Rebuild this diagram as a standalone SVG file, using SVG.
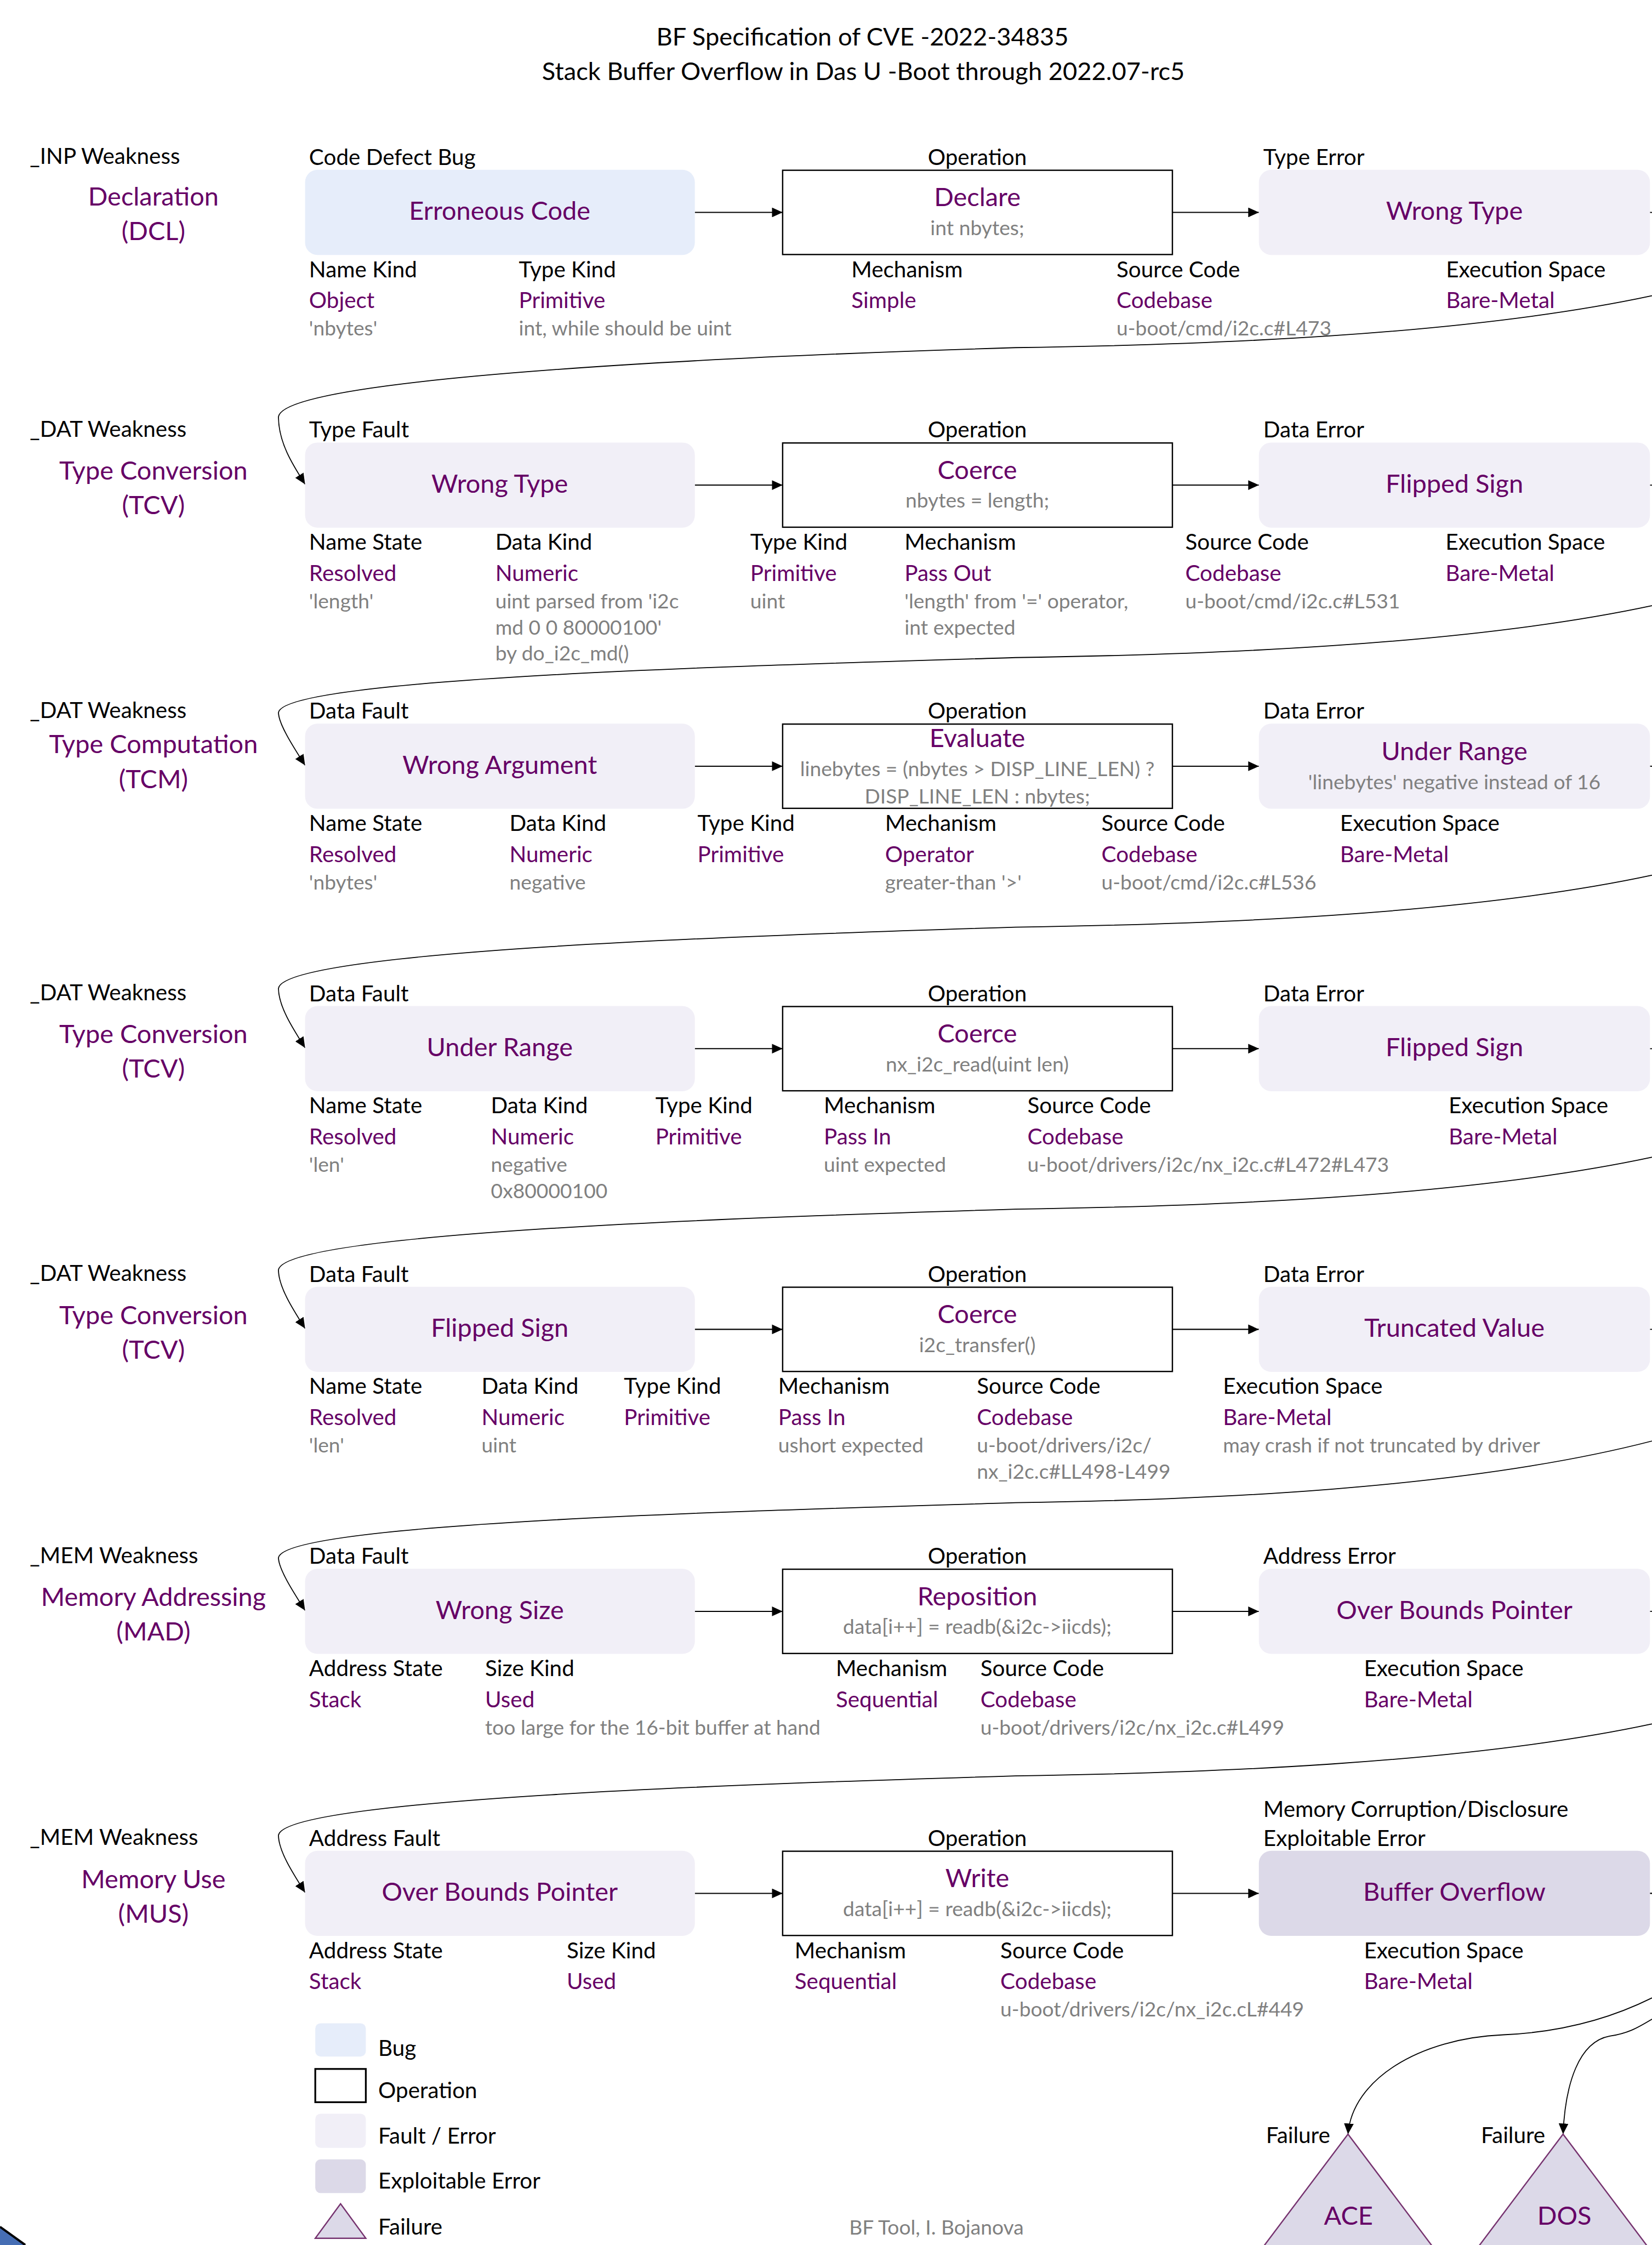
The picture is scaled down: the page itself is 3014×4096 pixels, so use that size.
<svg xmlns="http://www.w3.org/2000/svg" width="3014" height="4096" viewBox="0 0 3014 4096">
<style>
text{font-family:Lato,"Open Sans","DejaVu Sans",sans-serif}
.t{font-size:56px;fill:#000;text-anchor:middle}
.h{font-size:50px;fill:#000}
.hc{font-size:50px;fill:#000;text-anchor:middle}
.v{font-size:50px;fill:#660066}
.g{font-size:46px;fill:#808080}
.gc{font-size:46px;fill:#808080;text-anchor:middle}
.m{font-size:58px;fill:#660066;text-anchor:middle}
.bug{fill:#e6edfa}
.fe{fill:#f1eff7}
.xe{fill:#dcd9e8}
.op{fill:#fff;stroke:#000;stroke-width:3}
.e{fill:none;stroke:#000;stroke-width:2.5}
.c{fill:none;stroke:#000;stroke-width:2.2}
.tri{fill:#dcd9e8;stroke:#76336f;stroke-width:3}
</style>
<defs>
<marker id="arr" viewBox="0 0 24 22" refX="24" refY="11" markerWidth="24" markerHeight="22" orient="auto" markerUnits="userSpaceOnUse"><path d="M0,0 L24,11 L0,22 Z" fill="#000"/></marker>
</defs>
<rect x="0" y="0" width="3014" height="4096" fill="#fff"/>
<g transform="scale(0.809)">
<g id="title">
<text class="t" x="1945" y="102">BF Specification of CVE -2022-34835</text>
<text class="t" x="1947" y="180">Stack Buffer Overflow in Das U -Boot through 2022.07-rc5</text>
</g>

<g id="connectors">
<path class="e" d="M1567 479 H1765" marker-end="url(#arr)"/>
<path class="e" d="M2644 479 H2839" marker-end="url(#arr)"/>
<path class="e" d="M1567 1094 H1765" marker-end="url(#arr)"/>
<path class="e" d="M2644 1094 H2839" marker-end="url(#arr)"/>
<path class="e" d="M1567 1728 H1765" marker-end="url(#arr)"/>
<path class="e" d="M2644 1728 H2839" marker-end="url(#arr)"/>
<path class="e" d="M1567 2365 H1765" marker-end="url(#arr)"/>
<path class="e" d="M2644 2365 H2839" marker-end="url(#arr)"/>
<path class="e" d="M1567 2998 H1765" marker-end="url(#arr)"/>
<path class="e" d="M2644 2998 H2839" marker-end="url(#arr)"/>
<path class="e" d="M1567 3634 H1765" marker-end="url(#arr)"/>
<path class="e" d="M2644 3634 H2839" marker-end="url(#arr)"/>
<path class="e" d="M1567 4270 H1765" marker-end="url(#arr)"/>
<path class="e" d="M2644 4270 H2839" marker-end="url(#arr)"/>
<path class="c" d="M3721 479 C3860 479,3860 627,3725 667 C3300 758,2700 778,2290 784 C1700 802,640 848,628 940 C628 998,660 1048,688 1092" marker-end="url(#arr)"/>
<path class="c" d="M3721 1094 C3860 1094,3860 1326,3725 1366 C3300 1457,2700 1477,2290 1483 C1700 1501,640 1528,628 1607 C628 1632,660 1682,688 1726" marker-end="url(#arr)"/>
<path class="c" d="M3721 1728 C3860 1728,3860 1934,3725 1974 C3300 2065,2700 2085,2290 2091 C1700 2109,640 2144,628 2229 C628 2269,660 2319,688 2363" marker-end="url(#arr)"/>
<path class="c" d="M3721 2365 C3860 2365,3860 2570,3725 2610 C3300 2701,2700 2721,2290 2727 C1700 2745,640 2779,628 2864 C628 2902,660 2952,688 2996" marker-end="url(#arr)"/>
<path class="c" d="M3721 2998 C3860 2998,3860 3210,3725 3250 C3300 3360,2700 3383,2290 3389 C1700 3407,640 3434,628 3513 C628 3538,660 3588,688 3632" marker-end="url(#arr)"/>
<path class="c" d="M3721 3634 C3860 3634,3860 3848,3725 3888 C3300 3979,2700 3999,2290 4005 C1700 4023,640 4056,628 4139 C628 4174,660 4224,688 4268" marker-end="url(#arr)"/>
<path class="c" d="M3721 4270 C3860 4270,3860 4440,3725 4506 C3600 4568,3480 4585,3390 4589 C3200 4597,3050 4690,3040 4813" marker-end="url(#arr)"/>
<path class="c" d="M3721 4270 C3860 4270,3860 4480,3725 4554 C3690 4575,3670 4586,3630 4592 C3560 4605,3530 4700,3525 4813" marker-end="url(#arr)"/>
</g>

<!-- Row 1 -->
<g id="r1-weakness">
<text class="h" x="67" y="370">_INP Weakness</text>
<text class="m" x="346" y="463">Declaration</text>
<text class="m" x="346" y="542">(DCL)</text>
</g>
<g id="r1-bug">
<text class="h" x="697" y="372">Code Defect Bug</text>
<rect class="bug" x="688" y="383" width="879" height="192" rx="28"/>
<text class="m" x="1127" y="496">Erroneous Code</text>
<text class="h" x="697" y="625">Name Kind</text><text class="v" x="697" y="695">Object</text><text class="g" x="697" y="757">'nbytes'</text>
<text class="h" x="1170" y="625">Type Kind</text><text class="v" x="1170" y="695">Primitive</text><text class="g" x="1170" y="757">int, while should be uint</text>
</g>
<g id="r1-op">
<text class="hc" x="2204" y="372">Operation</text>
<rect class="op" x="1765" y="384" width="879" height="190"/>
<text class="m" x="2204" y="465">Declare</text>
<text class="gc" x="2204" y="530">int nbytes;</text>
<text class="h" x="1920" y="625">Mechanism</text><text class="v" x="1920" y="695">Simple</text>
<text class="h" x="2518" y="625">Source Code</text><text class="v" x="2518" y="695">Codebase</text><text class="g" x="2518" y="757">u-boot/cmd/i2c.c#L473</text>
<text class="h" x="3261" y="625">Execution Space</text><text class="v" x="3261" y="695">Bare-Metal</text>
</g>
<g id="r1-error">
<text class="h" x="2849" y="372">Type Error</text>
<rect class="fe" x="2839" y="383" width="882" height="192" rx="28"/>
<text class="m" x="3280" y="496">Wrong Type</text>
</g>

<!-- Row 2 -->
<g id="r2-weakness">
<text class="h" x="67" y="985">_DAT Weakness</text>
<text class="m" x="346" y="1081">Type Conversion</text>
<text class="m" x="346" y="1159">(TCV)</text>
</g>
<g id="r2-fault">
<text class="h" x="697" y="987">Type Fault</text>
<rect class="fe" x="688" y="998" width="879" height="192" rx="28"/>
<text class="m" x="1127" y="1111">Wrong Type</text>
<text class="h" x="697" y="1240">Name State</text><text class="v" x="697" y="1310">Resolved</text><text class="g" x="697" y="1372">'length'</text>
<text class="h" x="1117" y="1240">Data Kind</text><text class="v" x="1117" y="1310">Numeric</text><text class="g" x="1117" y="1372">uint parsed from 'i2c</text><text class="g" x="1117" y="1431">md 0 0 80000100'</text><text class="g" x="1117" y="1490">by do_i2c_md()</text>
<text class="h" x="1692" y="1240">Type Kind</text><text class="v" x="1692" y="1310">Primitive</text><text class="g" x="1692" y="1372">uint</text>
</g>
<g id="r2-op">
<text class="hc" x="2204" y="987">Operation</text>
<rect class="op" x="1765" y="999" width="879" height="190"/>
<text class="m" x="2204" y="1080">Coerce</text>
<text class="gc" x="2204" y="1145">nbytes = length;</text>
<text class="h" x="2040" y="1240">Mechanism</text><text class="v" x="2040" y="1310">Pass Out</text><text class="g" x="2040" y="1372">'length' from '=' operator,</text><text class="g" x="2040" y="1431">int expected</text>
<text class="h" x="2673" y="1240">Source Code</text><text class="v" x="2673" y="1310">Codebase</text><text class="g" x="2673" y="1372">u-boot/cmd/i2c.c#L531</text>
<text class="h" x="3260" y="1240">Execution Space</text><text class="v" x="3260" y="1310">Bare-Metal</text>
</g>
<g id="r2-error">
<text class="h" x="2849" y="987">Data Error</text>
<rect class="fe" x="2839" y="998" width="882" height="192" rx="28"/>
<text class="m" x="3280" y="1111">Flipped Sign</text>
</g>

<!-- Row 3 -->
<g id="r3-weakness">
<text class="h" x="67" y="1619">_DAT Weakness</text>
<text class="m" x="346" y="1699">Type Computation</text>
<text class="m" x="346" y="1778">(TCM)</text>
</g>
<g id="r3-fault">
<text class="h" x="697" y="1621">Data Fault</text>
<rect class="fe" x="688" y="1632" width="879" height="192" rx="28"/>
<text class="m" x="1127" y="1745">Wrong Argument</text>
<text class="h" x="697" y="1874">Name State</text><text class="v" x="697" y="1944">Resolved</text><text class="g" x="697" y="2006">'nbytes'</text>
<text class="h" x="1149" y="1874">Data Kind</text><text class="v" x="1149" y="1944">Numeric</text><text class="g" x="1149" y="2006">negative</text>
<text class="h" x="1573" y="1874">Type Kind</text><text class="v" x="1573" y="1944">Primitive</text>
</g>
<g id="r3-op">
<text class="hc" x="2204" y="1621">Operation</text>
<rect class="op" x="1765" y="1633" width="879" height="190"/>
<text class="m" x="2204" y="1685">Evaluate</text>
<text class="gc" x="2204" y="1750">linebytes = (nbytes &gt; DISP_LINE_LEN) ?</text>
<text class="gc" x="2204" y="1812">DISP_LINE_LEN : nbytes;</text>
<text class="h" x="1996" y="1874">Mechanism</text><text class="v" x="1996" y="1944">Operator</text><text class="g" x="1996" y="2006">greater-than '&gt;'</text>
<text class="h" x="2484" y="1874">Source Code</text><text class="v" x="2484" y="1944">Codebase</text><text class="g" x="2484" y="2006">u-boot/cmd/i2c.c#L536</text>
<text class="h" x="3022" y="1874">Execution Space</text><text class="v" x="3022" y="1944">Bare-Metal</text>
</g>
<g id="r3-error">
<text class="h" x="2849" y="1621">Data Error</text>
<rect class="fe" x="2839" y="1632" width="882" height="192" rx="28"/>
<text class="m" x="3280" y="1715">Under Range</text>
<text class="gc" x="3280" y="1780">'linebytes' negative instead of 16</text>
</g>

<!-- Row 4 -->
<g id="r4-weakness">
<text class="h" x="67" y="2256">_DAT Weakness</text>
<text class="m" x="346" y="2352">Type Conversion</text>
<text class="m" x="346" y="2430">(TCV)</text>
</g>
<g id="r4-fault">
<text class="h" x="697" y="2258">Data Fault</text>
<rect class="fe" x="688" y="2269" width="879" height="192" rx="28"/>
<text class="m" x="1127" y="2382">Under Range</text>
<text class="h" x="697" y="2511">Name State</text><text class="v" x="697" y="2581">Resolved</text><text class="g" x="697" y="2643">'len'</text>
<text class="h" x="1107" y="2511">Data Kind</text><text class="v" x="1107" y="2581">Numeric</text><text class="g" x="1107" y="2643">negative</text><text class="g" x="1107" y="2702">0x80000100</text>
<text class="h" x="1478" y="2511">Type Kind</text><text class="v" x="1478" y="2581">Primitive</text>
</g>
<g id="r4-op">
<text class="hc" x="2204" y="2258">Operation</text>
<rect class="op" x="1765" y="2270" width="879" height="190"/>
<text class="m" x="2204" y="2351">Coerce</text>
<text class="gc" x="2204" y="2416">nx_i2c_read(uint len)</text>
<text class="h" x="1858" y="2511">Mechanism</text><text class="v" x="1858" y="2581">Pass In</text><text class="g" x="1858" y="2643">uint expected</text>
<text class="h" x="2317" y="2511">Source Code</text><text class="v" x="2317" y="2581">Codebase</text><text class="g" x="2317" y="2643">u-boot/drivers/i2c/nx_i2c.c#L472#L473</text>
<text class="h" x="3267" y="2511">Execution Space</text><text class="v" x="3267" y="2581">Bare-Metal</text>
</g>
<g id="r4-error">
<text class="h" x="2849" y="2258">Data Error</text>
<rect class="fe" x="2839" y="2269" width="882" height="192" rx="28"/>
<text class="m" x="3280" y="2382">Flipped Sign</text>
</g>

<!-- Row 5 -->
<g id="r5-weakness">
<text class="h" x="67" y="2889">_DAT Weakness</text>
<text class="m" x="346" y="2986">Type Conversion</text>
<text class="m" x="346" y="3064">(TCV)</text>
</g>
<g id="r5-fault">
<text class="h" x="697" y="2891">Data Fault</text>
<rect class="fe" x="688" y="2902" width="879" height="192" rx="28"/>
<text class="m" x="1127" y="3015">Flipped Sign</text>
<text class="h" x="697" y="3144">Name State</text><text class="v" x="697" y="3214">Resolved</text><text class="g" x="697" y="3276">'len'</text>
<text class="h" x="1086" y="3144">Data Kind</text><text class="v" x="1086" y="3214">Numeric</text><text class="g" x="1086" y="3276">uint</text>
<text class="h" x="1407" y="3144">Type Kind</text><text class="v" x="1407" y="3214">Primitive</text>
</g>
<g id="r5-op">
<text class="hc" x="2204" y="2891">Operation</text>
<rect class="op" x="1765" y="2903" width="879" height="190"/>
<text class="m" x="2204" y="2984">Coerce</text>
<text class="gc" x="2204" y="3049">i2c_transfer()</text>
<text class="h" x="1755" y="3144">Mechanism</text><text class="v" x="1755" y="3214">Pass In</text><text class="g" x="1755" y="3276">ushort expected</text>
<text class="h" x="2203" y="3144">Source Code</text><text class="v" x="2203" y="3214">Codebase</text><text class="g" x="2203" y="3276">u-boot/drivers/i2c/</text><text class="g" x="2203" y="3335">nx_i2c.c#LL498-L499</text>
<text class="h" x="2758" y="3144">Execution Space</text><text class="v" x="2758" y="3214">Bare-Metal</text><text class="g" x="2758" y="3276">may crash if not truncated by driver</text>
</g>
<g id="r5-error">
<text class="h" x="2849" y="2891">Data Error</text>
<rect class="fe" x="2839" y="2902" width="882" height="192" rx="28"/>
<text class="m" x="3280" y="3015">Truncated Value</text>
</g>

<!-- Row 6 -->
<g id="r6-weakness">
<text class="h" x="67" y="3525">_MEM Weakness</text>
<text class="m" x="346" y="3622">Memory Addressing</text>
<text class="m" x="346" y="3700">(MAD)</text>
</g>
<g id="r6-fault">
<text class="h" x="697" y="3527">Data Fault</text>
<rect class="fe" x="688" y="3538" width="879" height="192" rx="28"/>
<text class="m" x="1127" y="3651">Wrong Size</text>
<text class="h" x="697" y="3780">Address State</text><text class="v" x="697" y="3850">Stack</text>
<text class="h" x="1094" y="3780">Size Kind</text><text class="v" x="1094" y="3850">Used</text><text class="g" x="1094" y="3912">too large for the 16-bit buffer at hand</text>
</g>
<g id="r6-op">
<text class="hc" x="2204" y="3527">Operation</text>
<rect class="op" x="1765" y="3539" width="879" height="190"/>
<text class="m" x="2204" y="3620">Reposition</text>
<text class="gc" x="2204" y="3685">data[i++] = readb(&amp;i2c-&gt;iicds);</text>
<text class="h" x="1885" y="3780">Mechanism</text><text class="v" x="1885" y="3850">Sequential</text>
<text class="h" x="2211" y="3780">Source Code</text><text class="v" x="2211" y="3850">Codebase</text><text class="g" x="2211" y="3912">u-boot/drivers/i2c/nx_i2c.c#L499</text>
<text class="h" x="3076" y="3780">Execution Space</text><text class="v" x="3076" y="3850">Bare-Metal</text>
</g>
<g id="r6-error">
<text class="h" x="2849" y="3527">Address Error</text>
<rect class="fe" x="2839" y="3538" width="882" height="192" rx="28"/>
<text class="m" x="3280" y="3651">Over Bounds Pointer</text>
</g>

<!-- Row 7 -->
<g id="r7-weakness">
<text class="h" x="67" y="4161">_MEM Weakness</text>
<text class="m" x="346" y="4258">Memory Use</text>
<text class="m" x="346" y="4336">(MUS)</text>
</g>
<g id="r7-fault">
<text class="h" x="697" y="4163">Address Fault</text>
<rect class="fe" x="688" y="4174" width="879" height="192" rx="28"/>
<text class="m" x="1127" y="4287">Over Bounds Pointer</text>
<text class="h" x="697" y="4416">Address State</text><text class="v" x="697" y="4486">Stack</text>
<text class="h" x="1278" y="4416">Size Kind</text><text class="v" x="1278" y="4486">Used</text>
</g>
<g id="r7-op">
<text class="hc" x="2204" y="4163">Operation</text>
<rect class="op" x="1765" y="4175" width="879" height="190"/>
<text class="m" x="2204" y="4256">Write</text>
<text class="gc" x="2204" y="4321">data[i++] = readb(&amp;i2c-&gt;iicds);</text>
<text class="h" x="1792" y="4416">Mechanism</text><text class="v" x="1792" y="4486">Sequential</text>
<text class="h" x="2256" y="4416">Source Code</text><text class="v" x="2256" y="4486">Codebase</text><text class="g" x="2256" y="4548">u-boot/drivers/i2c/nx_i2c.cL#449</text>
<text class="h" x="3076" y="4416">Execution Space</text><text class="v" x="3076" y="4486">Bare-Metal</text>
</g>
<g id="r7-error">
<text class="h" x="2849" y="4098">Memory Corruption/Disclosure</text>
<text class="h" x="2849" y="4163">Exploitable Error</text>
<rect class="xe" x="2839" y="4174" width="882" height="192" rx="28"/>
<text class="m" x="3280" y="4287">Buffer Overflow</text>
</g>

<!-- Failures -->
<g id="failure-ace">
<polygon class="tri" points="3040,4813 3416,5313 2664,5313"/>
<text class="h" x="2855" y="4833">Failure</text>
<text class="m" x="3041" y="5017">ACE</text>
</g>
<g id="failure-dos">
<polygon class="tri" points="3525,4813 3901,5313 3149,5313"/>
<text class="h" x="3340" y="4833">Failure</text>
<text class="m" x="3528" y="5017">DOS</text>
</g>

<!-- Legend -->
<g id="legend">
<rect class="bug" x="711" y="4563" width="114" height="75" rx="12"/>
<text class="h" x="853" y="4636">Bug</text>
<rect class="op" x="711" y="4666" width="114" height="75" style="stroke-width:4"/>
<text class="h" x="853" y="4732">Operation</text>
<rect class="fe" x="711" y="4767" width="114" height="77" rx="12"/>
<text class="h" x="853" y="4834">Fault / Error</text>
<rect class="xe" x="711" y="4870" width="114" height="76" rx="12"/>
<text class="h" x="853" y="4936">Exploitable Error</text>
<polygon class="tri" points="768,4970 825,5048 711,5048"/>
<text class="h" x="853" y="5039">Failure</text>
</g>
<text class="g" x="1915" y="5039">BF Tool, I. Bojanova</text>

<g id="corner-shape">
<polygon points="0,5022 57,5063 0,5063" fill="#466eb4"/>
<line x1="0" y1="5022" x2="57" y2="5063" stroke="#000" stroke-width="5"/>
</g>
</g>
</svg>
